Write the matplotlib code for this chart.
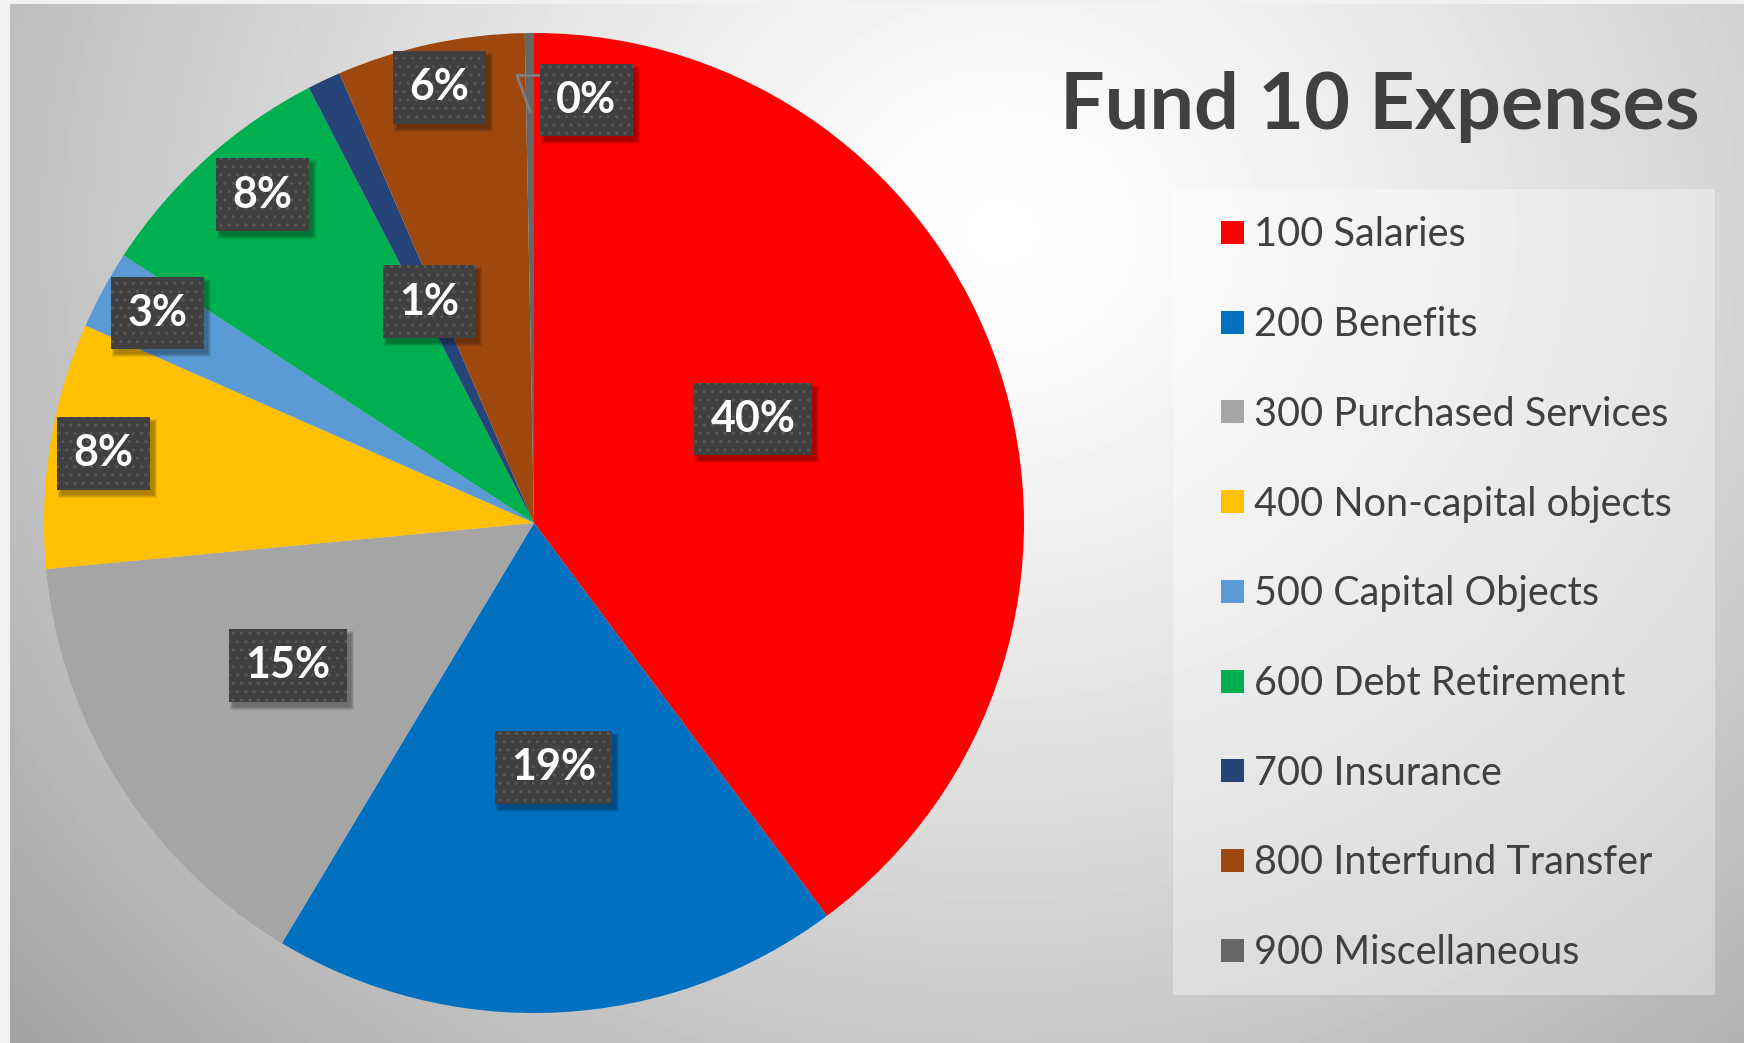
import matplotlib.pyplot as plt
import numpy as np
from matplotlib.patches import Rectangle
from matplotlib.transforms import IdentityTransform

categories = ["100 Salaries", "200 Benefits", "300 Purchased Services",
              "400 Non-capital objects", "500 Capital Objects",
              "600 Debt Retirement", "700 Insurance",
              "800 Interfund Transfer", "900 Miscellaneous"]
shares = [39.8, 18.8, 14.9, 8.1, 2.6, 8.2, 1.1, 6.2, 0.3]
colors = ["#FF0000", "#0070C0", "#A5A5A5", "#FFC000", "#5B9BD5",
          "#00B050", "#264478", "#9E480E", "#666666"]
title = "Fund 10 Expenses"

W, H = 1744, 1043
fig = plt.figure(figsize=(W / 100, H / 100), dpi=100, facecolor="#f1f1f1")

# background: soft radial grey gradient (slide look)
bg = fig.add_axes([10 / W, 0, 1 - 10 / W, 1 - 4 / H])
bg.set_axis_off()
yy, xx = np.mgrid[4:H:4, 10:W:4]
d = np.hypot(xx - 1000, (yy - 230) * 1.1) / 1000
g = 1 - 0.25 * np.clip(d, 0, 1.4) ** 1.3
bg.imshow(g, cmap="gray", vmin=0, vmax=1, extent=[10, W, H, 4],
          aspect="auto", interpolation="bilinear")

# pie, centre at (534, 523) px, radius 490 px
cx, cy, R = 534, 523, 490
ax = fig.add_axes([0, 0, 1, 1])
wedges, _ = ax.pie(shares, colors=colors, startangle=90, counterclock=False,
                   radius=1, wedgeprops=dict(linewidth=0))
ax.set_xlim(-cx / R, (W - cx) / R)
ax.set_ylim(-(H - cy) / R, cy / R)
ax.set_aspect("auto")
ax.set_axis_off()
ax.patch.set_alpha(0)

# data labels (dark textured boxes)
label_r = [0.495, 0.50, 0.58, 0.89, 0.88, 0.87, 0.50, 0.91, 0.87]
label_turn = [7, 1.7, -2.2, 0, -0.7, -2.5, 0, 0, -7.6]
labels = []
for w, s, r, turn in zip(wedges, shares, label_r, label_turn):
    mid = (w.theta1 + w.theta2) / 2
    ang = np.deg2rad(mid + turn)
    lx, ly = r * np.cos(ang), r * np.sin(ang)
    t = ax.text(lx, ly, f"{s:.0f}%", ha="center", va="center", fontsize=31,
                fontweight="bold", color="white", family="Lato", zorder=5,
                bbox=dict(boxstyle="square,pad=0.38", fc="#404040",
                          ec="#585858", lw=0, hatch=".."))
    labels.append(t)
    if turn < -5:
        # leader line for the tiny slice
        m = np.deg2rad(mid)
        tip = (0.84 * np.cos(m), 0.84 * np.sin(m))
        ax.plot([lx - 0.092, tip[0] - 0.027, tip[0]],
                [ly + 0.05, ly + 0.05, tip[1]],
                color="#7f7f7f", lw=2, zorder=4)

# soft drop shadow under each label box
fig.canvas.draw()
for t in labels:
    bb = t.get_bbox_patch().get_window_extent()
    for k in range(4):
        grow = 3 - k
        ax.add_artist(Rectangle((bb.x0 + 4 - grow, bb.y0 - 5 - grow),
                                bb.width + 2 * grow, bb.height + 2 * grow,
                                transform=IdentityTransform(), fc="black",
                                alpha=0.09, lw=0, zorder=4.5))

# title
fig.text(1060 / W, 1 - 129 / H, title, fontsize=57, fontweight="bold",
         color="#404040", family="Lato", ha="left", va="baseline")

# legend
fig.add_artist(Rectangle((1173 / W, 1 - 995 / H), (1715 - 1173) / W,
                         (995 - 189) / H, transform=fig.transFigure,
                         fc="white", alpha=0.35, lw=0))
for i, (name, c) in enumerate(zip(categories, colors)):
    yc = 232.5 + i * 89.7
    fig.add_artist(Rectangle((1221 / W, 1 - (yc + 11.5) / H), 23 / W, 23 / H,
                             transform=fig.transFigure, fc=c, lw=0))
    fig.text(1254 / W, 1 - (yc + 14) / H, name, fontsize=28.5, color="#404040",
             family="Lato", ha="left", va="baseline")

fig.savefig("out.png", dpi=100, facecolor=fig.get_facecolor())
